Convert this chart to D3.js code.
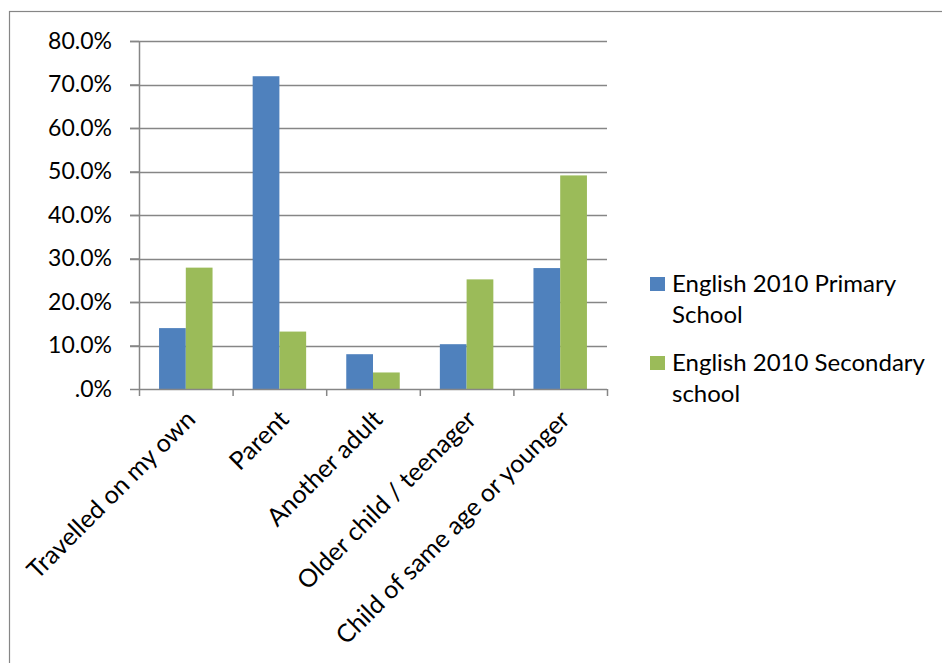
<!DOCTYPE html>
<html>
<head>
<meta charset="utf-8">
<script src="https://cdn.jsdelivr.net/npm/d3@7"></script>
<style>
html,body{margin:0;padding:0;background:#fff;}
svg text{font-family:Lato,"Noto Sans",sans-serif;fill:#000;}
</style>
</head>
<body>
<svg id="chart" width="942" height="663"></svg>
<script>
const categories = ["Travelled on my own","Parent","Another adult","Older child / teenager","Child of same age or younger"];
const seriesNames = ["English 2010 Primary School","English 2010 Secondary school"];
const primaryValues = [14.0, 71.9, 8.0, 10.3, 27.8];
const secondaryValues = [27.9, 13.2, 3.8, 25.2, 49.1];
const yTicks = [0,10,20,30,40,50,60,70,80];
const colors = ["#4F81BD","#9BBB59"];
const legendLines = [["English 2010 Primary","School"],["English 2010 Secondary","school"]];

const svg = d3.select("#chart");
// outer border
svg.append("rect").attr("x",9.5).attr("y",11.5).attr("width",1000).attr("height",1000)
  .attr("fill","none").attr("stroke","#868686").attr("stroke-width",1.2);

const plot = {left:139, right:607, top:41, bottom:389};
const x = d3.scaleBand().domain(categories).range([plot.left, plot.right]);
const x1 = d3.scaleBand().domain([0,1]).range([0, x.bandwidth()]).paddingOuter(0.75).paddingInner(0);
const y = d3.scaleLinear().domain([0,80]).range([plot.bottom, plot.top]);

// gridlines
svg.append("g").selectAll("line").data(yTicks.filter(d=>d>0)).join("line")
  .attr("x1",plot.left-9).attr("x2",plot.right)
  .attr("y1",d=>Math.round(y(d))+0.5).attr("y2",d=>Math.round(y(d))+0.5)
  .attr("stroke","#868686").attr("stroke-width",1.5);

// bars
const data = categories.map((c,i)=>({c, vals:[primaryValues[i], secondaryValues[i]]}));
const g = svg.append("g");
data.forEach(d=>{
  d.vals.forEach((v,j)=>{
    g.append("rect")
      .attr("x", x(d.c)+x1(j))
      .attr("y", y(v))
      .attr("width", x1.bandwidth())
      .attr("height", y(0)-y(v))
      .attr("fill", colors[j]);
  });
});

// y axis
const yAxis = d3.axisLeft(y).tickValues(yTicks).tickSize(9).tickPadding(18)
  .tickFormat(d=> d===0 ? ".0%" : d.toFixed(1)+"%");
const ya = svg.append("g").attr("transform",`translate(${plot.left},0)`).call(yAxis);
ya.select(".domain").attr("stroke","#868686").attr("stroke-width",1.5).attr("d",`M0.5,${plot.top}V${plot.bottom}`);
ya.selectAll(".tick line").attr("stroke","#868686").attr("stroke-width",1.5);
ya.selectAll(".tick text").attr("font-size",23).style("font-family","Lato");

// x axis
const xAxis = d3.axisBottom(x).tickSize(0).tickFormat("");
const xa = svg.append("g").attr("transform",`translate(0,${plot.bottom})`).call(xAxis);
xa.select(".domain").attr("stroke","#868686").attr("stroke-width",1.5).attr("d",`M${plot.left},0.5H${plot.right}`);
const tickPos = categories.map(c=>x(c)).concat([plot.right]);
xa.append("g").selectAll("line").data(tickPos).join("line")
  .attr("x1",d=>d+0.5).attr("x2",d=>d+0.5).attr("y1",0).attr("y2",7)
  .attr("stroke","#868686").attr("stroke-width",1.5);

// category labels
svg.append("g").selectAll("text").data(categories).join("text")
  .attr("transform",d=>`translate(${x(d)+x.bandwidth()/2+11},${421}) rotate(-45)`)
  .attr("text-anchor","end")
  .attr("font-size",25)
  .text(d=>d);

// legend
const lg = svg.append("g");
legendLines.forEach((lines,i)=>{
  const by = 292 + i*79;
  lg.append("rect").attr("x",650).attr("y",by-15).attr("width",15).attr("height",14).attr("fill",colors[i]);
  lines.forEach((t,k)=>{
    lg.append("text").attr("x",672).attr("y",by+k*31).attr("font-size",24).text(t);
  });
});
</script>
</body>
</html>
